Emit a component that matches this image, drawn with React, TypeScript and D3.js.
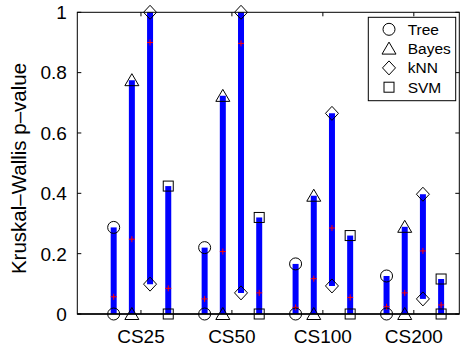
import React, { useRef, useEffect } from "react";
import * as d3 from "d3";

const groups = ["CS25", "CS50", "CS100", "CS200"];
const methods = ["Tree", "Bayes", "kNN", "SVM"];

// max / min / mean p-value per method, one entry per group
const treeMax = [0.287, 0.22, 0.166, 0.126];
const treeMin = [0, 0, 0, 0];
const treeMean = [0.057, 0.05, 0.022, 0.024];

const bayesMax = [0.775, 0.723, 0.392, 0.289];
const bayesMin = [0, 0, 0, 0];
const bayesMean = [0.248, 0.207, 0.117, 0.07];

const knnMax = [1.0, 1.0, 0.665, 0.397];
const knnMin = [0.099, 0.07, 0.093, 0.05];
const knnMean = [0.9, 0.897, 0.285, 0.209];

const svmMax = [0.424, 0.32, 0.26, 0.116];
const svmMin = [0, 0, 0, 0];
const svmMean = [0.085, 0.07, 0.055, 0.03];

const yTicks = [0, 0.2, 0.4, 0.6, 0.8, 1];
const offsets = [-0.3, -0.1, 0.1, 0.3];

interface Range {
  group: number;
  method: number;
  min: number;
  max: number;
  mean: number;
}

const App: React.FC = () => {
  const svgRef = useRef<SVGSVGElement | null>(null);
  const width = 463;
  const height = 349;

  useEffect(() => {
    const svg = d3.select(svgRef.current);
    svg.selectAll("*").remove();

    const font = "'Liberation Sans', Arial, Helvetica, sans-serif";
    const left = 77.3;
    const right = 459.3;
    const top = 12.3;
    const bottom = 314;

    const x = d3.scaleLinear().domain([0.3, 4.5]).range([left, right]);
    const y = d3.scaleLinear().domain([0, 1]).range([bottom, top]);

    const maxs = [treeMax, bayesMax, knnMax, svmMax];
    const mins = [treeMin, bayesMin, knnMin, svmMin];
    const means = [treeMean, bayesMean, knnMean, svmMean];

    const data: Range[] = [];
    groups.forEach((_, gi) => {
      methods.forEach((_, mi) => {
        data.push({
          group: gi,
          method: mi,
          min: mins[mi][gi],
          max: maxs[mi][gi],
          mean: means[mi][gi],
        });
      });
    });
    const px = (d: Range) => x(d.group + 1 + offsets[d.method]);

    // white background
    svg.append("rect").attr("width", width).attr("height", height).attr("fill", "#fff");

    // range bars
    svg
      .append("g")
      .selectAll("line")
      .data(data)
      .join("line")
      .attr("x1", px)
      .attr("x2", px)
      .attr("y1", (d) => y(d.min))
      .attr("y2", (d) => y(d.max))
      .attr("stroke", "#0000ff")
      .attr("stroke-width", 6);

    // mean markers (red +)
    const pg = svg.append("g").attr("stroke", "#ff0000").attr("stroke-width", 1);
    data.forEach((d) => {
      const cx = px(d);
      const cy = y(d.mean);
      pg.append("line").attr("x1", cx - 3).attr("x2", cx + 3).attr("y1", cy).attr("y2", cy);
      pg.append("line").attr("x1", cx).attr("x2", cx).attr("y1", cy - 3).attr("y2", cy + 3);
    });

    // axes box
    svg
      .append("rect")
      .attr("x", left)
      .attr("y", top)
      .attr("width", right - left)
      .attr("height", bottom - top)
      .attr("fill", "none")
      .attr("stroke", "#000")
      .attr("stroke-width", 1);
    svg
      .append("line")
      .attr("x1", left)
      .attr("x2", right)
      .attr("y1", bottom)
      .attr("y2", bottom)
      .attr("stroke", "#000")
      .attr("stroke-width", 1.5);

    // ticks
    const tk = svg.append("g").attr("stroke", "#000").attr("stroke-width", 1);
    yTicks.forEach((t) => {
      tk.append("line").attr("x1", left).attr("x2", left + 4).attr("y1", y(t)).attr("y2", y(t));
      tk.append("line").attr("x1", right).attr("x2", right - 4).attr("y1", y(t)).attr("y2", y(t));
    });
    groups.forEach((_, gi) => {
      const cx = x(gi + 1);
      tk.append("line").attr("x1", cx).attr("x2", cx).attr("y1", bottom).attr("y2", bottom - 4);
      tk.append("line").attr("x1", cx).attr("x2", cx).attr("y1", top).attr("y2", top + 4);
    });

    // markers
    const drawMarker = (
      g: d3.Selection<SVGGElement, unknown, null, undefined>,
      m: number,
      cx: number,
      cy: number
    ) => {
      if (m === 0) {
        g.append("circle").attr("cx", cx).attr("cy", cy).attr("r", 6);
      } else if (m === 1) {
        g.append("path").attr(
          "d",
          `M${cx - 7},${cy + 5.5}L${cx + 7},${cy + 5.5}L${cx},${cy - 6.5}Z`
        );
      } else if (m === 2) {
        g.append("path").attr(
          "d",
          `M${cx},${cy - 7}L${cx + 6.5},${cy}L${cx},${cy + 7}L${cx - 6.5},${cy}Z`
        );
      } else {
        g.append("rect")
          .attr("x", cx - 5)
          .attr("y", cy - 5)
          .attr("width", 10)
          .attr("height", 10);
      }
    };

    const mk = svg
      .append("g")
      .attr("fill", "none")
      .attr("stroke", "#000")
      .attr("stroke-width", 1);
    data.forEach((d) => {
      drawMarker(mk, d.method, px(d), y(d.max));
      drawMarker(mk, d.method, px(d), y(d.min));
    });

    // tick labels
    svg
      .append("g")
      .selectAll("text")
      .data(yTicks)
      .join("text")
      .attr("x", left - 10.5)
      .attr("y", (d) => y(d))
      .attr("dy", "0.36em")
      .attr("text-anchor", "end")
      .attr("font-family", font)
      .attr("font-size", 19)
      .text((d) => String(d));

    svg
      .append("g")
      .selectAll("text")
      .data(groups)
      .join("text")
      .attr("x", (_, i) => x(i + 1))
      .attr("y", 342.7)
      .attr("text-anchor", "middle")
      .attr("font-family", font)
      .attr("font-size", 19)
      .text((d) => d);

    // y axis label
    svg
      .append("text")
      .attr("transform", `translate(26, 168.5) rotate(-90)`)
      .attr("text-anchor", "middle")
      .attr("font-family", font)
      .attr("font-size", 20.5)
      .text("Kruskal\u2013Wallis p\u2013value");

    // legend
    const lg = svg.append("g");
    lg.append("rect")
      .attr("x", 368.3)
      .attr("y", 17.3)
      .attr("width", 87.4)
      .attr("height", 83.4)
      .attr("fill", "#fff")
      .attr("stroke", "#000")
      .attr("stroke-width", 1);
    const lm = lg
      .append("g")
      .attr("fill", "none")
      .attr("stroke", "#000")
      .attr("stroke-width", 1);
    methods.forEach((name, i) => {
      const cy = 29.3 + i * 19.3;
      drawMarker(lm, i, 389, cy);
      lg.append("text")
        .attr("x", 407.7)
        .attr("y", cy)
        .attr("dy", "0.36em")
        .attr("font-family", font)
        .attr("font-size", 15.5)
        .text(name);
    });
  }, []);

  return (
    <svg
      ref={svgRef}
      width={width}
      height={height}
      style={{ position: "absolute", left: 0, top: 0 }}
    ></svg>
  );
};

export default App;
